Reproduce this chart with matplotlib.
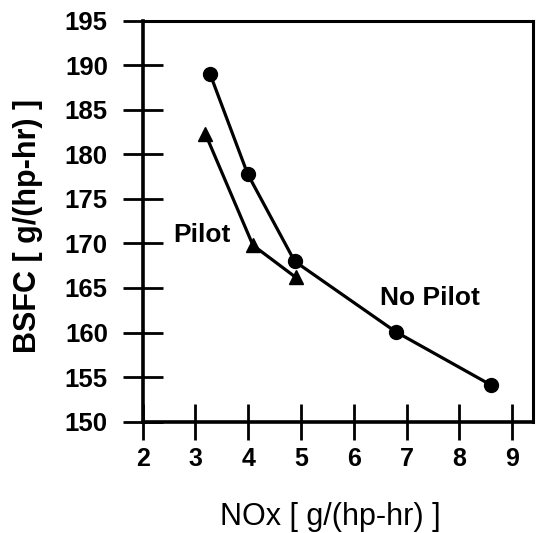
import numpy as np
import matplotlib
matplotlib.use("Agg")
from matplotlib import pyplot as plt

# BSFC vs NOx
nox_no_pilot = [3.28, 3.99, 4.88, 6.79, 8.6]
bsfc_no_pilot = [189.0, 177.8, 168.0, 160.1, 154.1]

nox_pilot = [3.19, 4.09, 4.9]
bsfc_pilot = [182.3, 169.8, 166.2]

xticks = [2, 3, 4, 5, 6, 7, 8, 9]
yticks = [150, 155, 160, 165, 170, 175, 180, 185, 190, 195]

plt.rcParams['font.family'] = ['Liberation Sans', 'DejaVu Sans']

fig = plt.figure(figsize=(5.36, 5.33), dpi=100)
ax = fig.add_axes([0.266, 0.209, 0.729, 0.752])

ax.plot(nox_no_pilot, bsfc_no_pilot, color='black', lw=2.3, marker='o', ms=10)
ax.plot(nox_pilot, bsfc_pilot, color='black', lw=2.3, marker='^', ms=10)

# curve labels
ax.text(2.574, 170.2, "Pilot", fontsize=19, fontweight='bold', va='baseline', ha='left')
ax.text(6.49, 163.1, "No Pilot", fontsize=19, fontweight='bold', va='baseline', ha='left')

ax.set_xlim(2, 9.4)
ax.set_ylim(150, 195)
ax.set_xticks(xticks)
ax.set_yticks(yticks)
ax.tick_params(axis='y', direction='inout', length=29, width=2, labelsize=18.5, pad=10.5)
ax.tick_params(axis='x', direction='inout', length=26, width=2, labelsize=18, pad=5.5)
for lab in ax.get_xticklabels() + ax.get_yticklabels():
    lab.set_fontweight('bold')
for side in ['left', 'bottom']:
    ax.spines[side].set_linewidth(2.6)
for side in ['top', 'right']:
    ax.spines[side].set_linewidth(2.2)

ax.set_xlabel("NOx [ g/(hp-hr) ]", fontsize=22)
ax.xaxis.label.set_va('center')
ax.xaxis.set_label_coords(0.48, -0.238)
ax.set_ylabel("BSFC [ g/(hp-hr) ]", fontsize=22, fontweight='bold')
ax.yaxis.label.set_va('center')
ax.yaxis.set_label_coords(-0.294, 0.488)

fig.savefig("out.png", dpi=100)
